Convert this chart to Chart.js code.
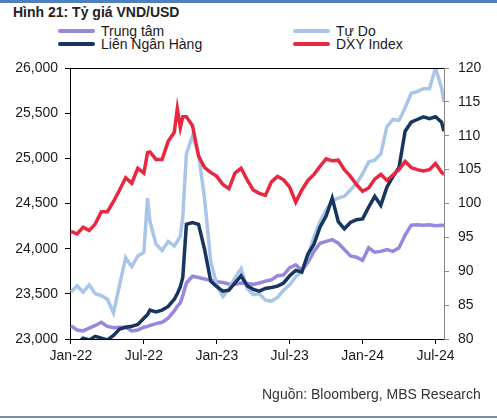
<!DOCTYPE html>
<html>
<head>
<meta charset="utf-8">
<script src="https://cdn.jsdelivr.net/npm/chart.js@4"></script>
<style>
  body { margin: 0; background: #fff; font-family: 'Liberation Sans', Arial, sans-serif; }
  #wrap { position: relative; width: 497px; height: 420px; overflow: hidden; }
  #topbar { position: absolute; left: 0; top: 0; width: 497px; height: 3px; background: #4f7fbf; }
  #title { position: absolute; left: 13px; top: 4px; font-size: 14px; font-weight: bold; color: #222; line-height: 16px; }
  .lg-swatch { position: absolute; width: 37px; height: 4px; border-radius: 2px; }
  .lg-text { position: absolute; font-size: 14px; color: #1a1a1a; line-height: 16px; white-space: nowrap; }
  #source { position: absolute; left: 262px; top: 386px; font-size: 14px; color: #333; line-height: 16px; }
  #bottomline { position: absolute; left: 0; top: 416px; width: 497px; height: 2px; background: #7a8ca3; }
  canvas { position: absolute; left: 0; top: 0; }
</style>
</head>
<body>
<div id="wrap">
  <div id="topbar"></div>
  <div id="title">Hình 21: Tỷ giá VND/USD</div>
  <div id="legend"></div>
  <canvas id="fxChart" width="497" height="420" style="width:497px;height:420px"></canvas>
  <div id="source">Nguồn: Bloomberg, MBS Research</div>
  <div id="bottomline"></div>
</div>
<script>
// months since Jan-22
const months = [0, 0.5, 1, 1.5, 2, 2.5, 3, 3.5, 4, 4.5, 5, 5.5, 6, 6.3, 6.5, 7, 7.5, 8, 8.5, 8.75,
  9, 9.2, 9.5, 10, 10.5, 11, 11.5, 12, 12.5, 13, 13.5, 14, 14.5, 15, 15.5, 16, 16.5, 17, 17.5, 18,
  18.5, 19, 19.5, 20, 20.5, 21, 21.5, 22, 22.5, 23, 23.5, 24, 24.5, 25, 25.5, 26, 26.5, 27, 27.5, 28,
  28.5, 29, 29.5, 30, 30.5, 30.7];

const tickMonths = [0, 6, 12, 18, 24, 30];
const tickLabels = ['Jan-22', 'Jul-22', 'Jan-23', 'Jul-23', 'Jan-24', 'Jul-24'];

// VND per USD
const trungTam = [23145, 23100, 23090, 23120, 23150, 23185, 23140, 23125, 23130, 23130, 23090, 23100, 23130, 23140, 23150, 23170, 23185, 23230, 23310, 23360,
  23400, 23480, 23620, 23695, 23680, 23665, 23650, 23635, 23625, 23610, 23605, 23620, 23615, 23605, 23620, 23640, 23655, 23700, 23710, 23790,
  23820, 23760, 23850, 23970, 24060, 24080, 24100, 24060, 23990, 23920, 23905, 23870, 24010, 23960, 23970, 23990, 23970, 24010, 24150, 24260,
  24265, 24260, 24265, 24255, 24260, 24255];

const tuDo = [23520, 23590, 23520, 23600, 23500, 23480, 23440, 23290, 23600, 23900, 23800, 23920, 23960, 24560, 24300, 24050, 23980, 24080, 24030, 24080,
  24140, 24350, 25050, 25250, 25050, 24550, 23860, 23600, 23470, 23550, 23680, 23780, 23560, 23490, 23500, 23430, 23420, 23460, 23540, 23600,
  23690, 23750, 23910, 24130, 24300, 24430, 24530, 24560, 24580, 24650, 24720, 24830, 24960, 24980, 25050, 25350, 25430, 25420, 25560, 25720,
  25740, 25770, 25770, 26000, 25780, 25620];

const lienNganHang = [22850, 22950, 23010, 22990, 23030, 23010, 22990, 23040, 23110, 23130, 23140, 23160, 23230, 23270, 23320, 23300, 23320, 23360, 23440, 23500,
  23580, 23680, 24270, 24290, 24270, 23990, 23640, 23580, 23530, 23540, 23620, 23700, 23590, 23550, 23530, 23560, 23570, 23585, 23620, 23700,
  23760, 23740, 23940, 24050, 24240, 24360, 24560, 24300, 24220, 24290, 24320, 24330, 24460, 24580, 24480, 24680, 24800, 24900, 25300, 25400,
  25430, 25460, 25440, 25460, 25400, 25300];

// DXY, right axis
const dxy = [95.9, 95.5, 96.5, 96.0, 97.0, 98.8, 98.8, 100.3, 102.0, 103.8, 103.0, 105.2, 104.5, 107.5, 107.6, 106.5, 106.5, 109.2, 110.5, 114.0,
  111.2, 112.8, 112.8, 111.5, 107.0, 105.3, 104.6, 104.0, 102.8, 102.2, 104.5, 105.2, 103.5, 102.0, 101.5, 101.2, 103.2, 104.0, 103.5, 102.4,
  100.2, 102.0, 103.4, 104.3, 105.5, 106.6, 106.3, 106.4, 105.0, 104.0, 102.8, 101.8, 102.3, 103.6, 104.3, 103.4, 104.2, 105.0, 106.2, 105.3,
  105.0, 104.8, 105.0, 105.9, 104.6, 104.3];

const seriesLabels = ['Trung tâm', 'Tự Do', 'Liên Ngân Hàng', 'DXY Index'];
const seriesColors = ['#9a86de', '#a9c5e8', '#17355e', '#e8283f'];
const legendSlots = [[58, 31], [293, 31], [58, 44], [293, 44]];

const toPoints = vals => vals.map((v, i) => ({ x: months[i], y: v }));
const FONT = { family: "'Liberation Sans', Arial, sans-serif", size: 14 };

// legend
const legendEl = document.getElementById('legend');
seriesLabels.forEach((label, i) => {
  const [lx, ly] = legendSlots[i];
  const sw = document.createElement('div');
  sw.className = 'lg-swatch';
  sw.style.left = lx + 'px';
  sw.style.top = (ly - 2) + 'px';
  sw.style.background = seriesColors[i];
  legendEl.appendChild(sw);
  const tx = document.createElement('div');
  tx.className = 'lg-text';
  tx.style.left = (lx + 43) + 'px';
  tx.style.top = (ly - 8) + 'px';
  tx.textContent = label;
  legendEl.appendChild(tx);
});

// top frame line
const topLine = {
  id: 'topLine',
  afterDraw(chart) {
    const { ctx, chartArea } = chart;
    ctx.save();
    ctx.strokeStyle = '#000';
    ctx.lineWidth = 1;
    ctx.beginPath();
    ctx.moveTo(chartArea.left, chartArea.top + 0.5);
    ctx.lineTo(chartArea.right, chartArea.top + 0.5);
    ctx.stroke();
    ctx.restore();
  }
};

function makeSet(i, data, axis, order) {
  return {
    label: seriesLabels[i],
    data: toPoints(data),
    borderColor: seriesColors[i],
    backgroundColor: seriesColors[i],
    borderWidth: 3.5,
    pointRadius: 0,
    tension: 0,
    yAxisID: axis,
    order
  };
}

new Chart(document.getElementById('fxChart'), {
  type: 'line',
  data: {
    datasets: [
      makeSet(3, dxy, 'y1', 0),
      makeSet(2, lienNganHang, 'y', 1),
      makeSet(1, tuDo, 'y', 2),
      makeSet(0, trungTam, 'y', 3)
    ]
  },
  options: {
    responsive: false,
    animation: false,
    layout: { padding: { top: 68, left: 0, right: 0, bottom: 51 } },
    plugins: { legend: { display: false }, tooltip: { enabled: false } },
    scales: {
      x: {
        type: 'linear',
        min: -0.08,
        max: 30.7,
        afterBuildTicks: scale => { scale.ticks = tickMonths.map(v => ({ value: v })); },
        afterFit: scale => { scale.height = 30; },
        ticks: {
          autoSkip: false,
          maxRotation: 0,
          padding: 4,
          color: '#1a1a1a',
          font: FONT,
          callback: v => tickLabels[tickMonths.indexOf(v)]
        },
        grid: { drawOnChartArea: false, tickLength: 5, color: '#000' },
        border: { color: '#000', width: 1 }
      },
      y: {
        position: 'left',
        min: 23000,
        max: 26000,
        afterFit: scale => { scale.width = 70; },
        ticks: {
          stepSize: 500,
          padding: 7,
          color: '#1a1a1a',
          font: FONT,
          callback: v => v.toLocaleString('en-US')
        },
        grid: { drawOnChartArea: false, tickLength: 5, color: '#000' },
        border: { color: '#000', width: 1 }
      },
      y1: {
        position: 'right',
        min: 80,
        max: 120,
        afterFit: scale => { scale.width = 53; },
        ticks: { stepSize: 5, padding: 9, color: '#1a1a1a', font: FONT },
        grid: { drawOnChartArea: false, tickLength: 5, color: '#888' },
        border: { color: '#888', width: 1 }
      }
    }
  },
  plugins: [topLine]
});
</script>
</body>
</html>
